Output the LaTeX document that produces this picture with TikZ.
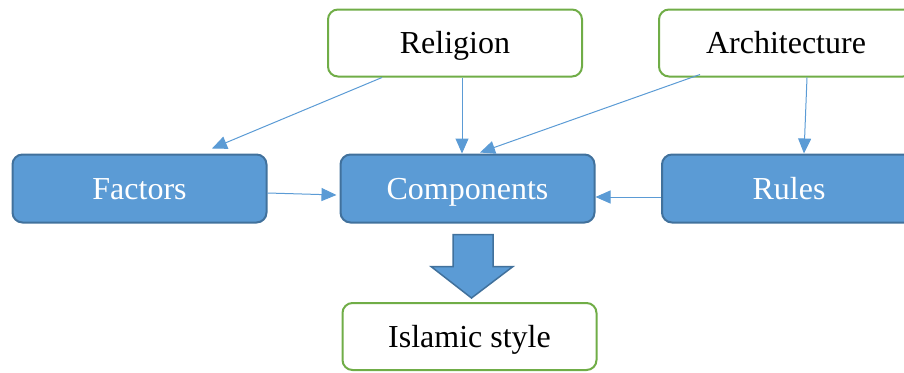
\documentclass[tikz,border=0pt]{standalone}
\usepackage{fontspec}
\setmainfont{Liberation Serif}
\usetikzlibrary{arrows.meta}
\definecolor{bfill}{HTML}{5B9BD5}
\definecolor{bdraw}{HTML}{41719C}
\definecolor{gdraw}{HTML}{70AD47}
\definecolor{lcol}{HTML}{5B9BD5}
\begin{document}
\begin{tikzpicture}[x=1pt,y=-1pt,
  gbox/.style={draw=gdraw,line width=2pt,fill=white,rounded corners=10pt,
    minimum width=254pt,minimum height=67pt,inner sep=0pt,
    text height=24pt,text depth=3pt,
    font=\fontsize{32}{38}\selectfont,text=black},
  bbox/.style={draw=bdraw,line width=2pt,fill=bfill,rounded corners=10pt,
    minimum width=254pt,minimum height=68pt,inner sep=0pt,
    text height=24pt,text depth=3pt,
    font=\fontsize{32}{38}\selectfont,text=white},
  conn/.style={draw=lcol,line width=1pt,-{Triangle[length=15pt,width=13pt]}}]
\useasboundingbox (0,0) rectangle (904,372);
\clip (0,0) rectangle (904,372);
\node[gbox] (rel) at (455,43) {Religion};
\node[gbox] (arch) at (786,43) {Architecture};
\node[bbox] (fac) at (139.5,188.5) {Factors};
\node[bbox] (comp) at (467.5,188.5) {Components};
\node[bbox] (rules) at (789,188.5) {Rules};
\node[gbox] (isl) at (469.5,336.5) {Islamic style};
\draw[conn] ([xshift=-73pt]rel.south) -- ([xshift=72.5pt,yshift=5pt]fac.north);
\draw[conn] ([xshift=7pt]rel.south) -- ([xshift=-5.5pt]comp.north);
\draw[conn] ([xshift=-86pt,yshift=3pt]arch.south) -- ([xshift=12.5pt,yshift=1pt]comp.north);
\draw[conn] ([xshift=21pt]arch.south) -- ([xshift=15pt]rules.north);
\draw[conn] ([yshift=-4.5pt]fac.east) -- ([xshift=-3pt,yshift=-6.5pt]comp.west);
\draw[conn] ([yshift=-8.5pt]rules.west) -- ([yshift=-8.5pt]comp.east);
\draw[draw=bdraw,line width=1.5pt,fill=bfill]
  ([xshift=-14.5pt,yshift=-11pt]comp.south) -- ([xshift=25.5pt,yshift=-11pt]comp.south)
  -- ([xshift=25.5pt,yshift=-43pt]comp.south) -- ([xshift=45.5pt,yshift=-43pt]comp.south)
  -- ([xshift=2pt,yshift=4pt]isl.north) -- ([xshift=-36.5pt,yshift=-43pt]comp.south)
  -- ([xshift=-14.5pt,yshift=-43pt]comp.south) -- cycle;
\end{tikzpicture}
\end{document}
